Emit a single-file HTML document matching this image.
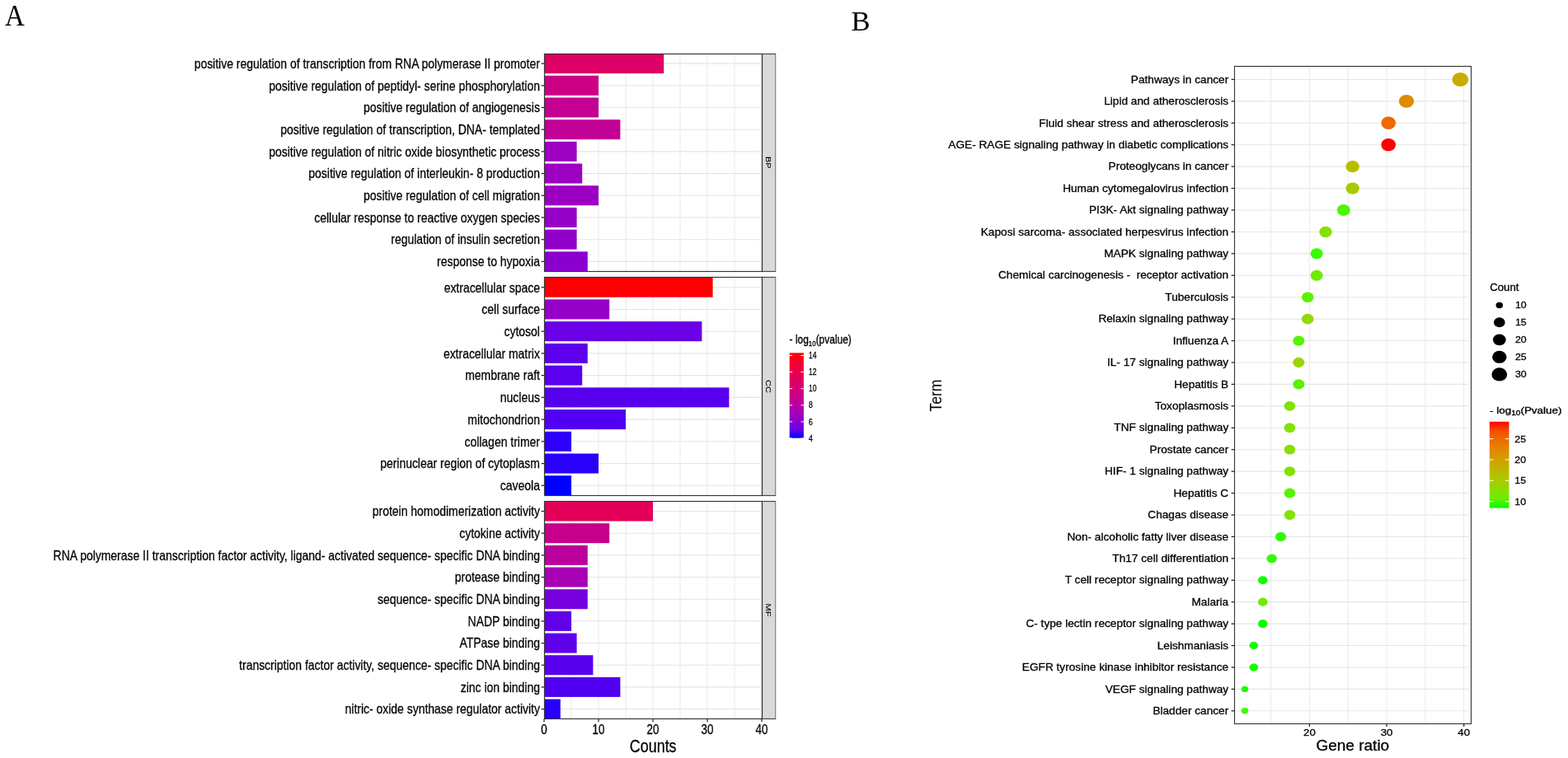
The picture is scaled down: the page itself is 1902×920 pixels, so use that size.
<!DOCTYPE html>
<html><head><meta charset="utf-8"><title>GO and KEGG enrichment</title>
<style>html,body{margin:0;padding:0;background:#fff;overflow:hidden}svg{display:block}</style>
</head><body>
<svg width="1902" height="920" viewBox="0 0 1902 920">
<rect width="1902" height="920" fill="#fff"/>
<text transform="translate(6.00,31.10) scale(0.9400,1)" font-family="Liberation Serif, serif" font-size="35.0" fill="#000" style="white-space:pre">A</text>
<rect x="660.0" y="65.1" width="264.0" height="264.29999999999995" fill="#fff"/>
<g stroke="#EBEBEB" stroke-width="1.1"><line x1="660.00" y1="65.1" x2="660.00" y2="329.4"/><line x1="693.00" y1="65.1" x2="693.00" y2="329.4"/><line x1="726.00" y1="65.1" x2="726.00" y2="329.4"/><line x1="759.00" y1="65.1" x2="759.00" y2="329.4"/><line x1="792.00" y1="65.1" x2="792.00" y2="329.4"/><line x1="825.00" y1="65.1" x2="825.00" y2="329.4"/><line x1="858.00" y1="65.1" x2="858.00" y2="329.4"/><line x1="891.00" y1="65.1" x2="891.00" y2="329.4"/><line x1="924.00" y1="65.1" x2="924.00" y2="329.4"/><line x1="660.0" y1="77.11" x2="922.0" y2="77.11" stroke="#E4E4E4"/><line x1="660.0" y1="103.81" x2="922.0" y2="103.81" stroke="#E4E4E4"/><line x1="660.0" y1="130.51" x2="922.0" y2="130.51" stroke="#E4E4E4"/><line x1="660.0" y1="157.20" x2="922.0" y2="157.20" stroke="#E4E4E4"/><line x1="660.0" y1="183.90" x2="922.0" y2="183.90" stroke="#E4E4E4"/><line x1="660.0" y1="210.60" x2="922.0" y2="210.60" stroke="#E4E4E4"/><line x1="660.0" y1="237.30" x2="922.0" y2="237.30" stroke="#E4E4E4"/><line x1="660.0" y1="263.99" x2="922.0" y2="263.99" stroke="#E4E4E4"/><line x1="660.0" y1="290.69" x2="922.0" y2="290.69" stroke="#E4E4E4"/><line x1="660.0" y1="317.39" x2="922.0" y2="317.39" stroke="#E4E4E4"/></g>
<rect x="660.0" y="65.10" width="145.20" height="24.03" fill="#DE0064"/>
<line x1="656.60" y1="77.11" x2="660.0" y2="77.11" stroke="#222" stroke-width="1.25"/>
<text transform="translate(654.90,82.91) scale(0.8460,1)" font-family="Liberation Sans, sans-serif" font-size="16.5" text-anchor="end" fill="#000" stroke="#000" stroke-width="0.28" style="white-space:pre">positive regulation of transcription from RNA polymerase II promoter</text>
<rect x="660.0" y="91.80" width="66.00" height="24.03" fill="#CC0085"/>
<line x1="656.60" y1="103.81" x2="660.0" y2="103.81" stroke="#222" stroke-width="1.25"/>
<text transform="translate(654.90,109.61) scale(0.8460,1)" font-family="Liberation Sans, sans-serif" font-size="16.5" text-anchor="end" fill="#000" stroke="#000" stroke-width="0.28" style="white-space:pre">positive regulation of peptidyl- serine phosphorylation</text>
<rect x="660.0" y="118.49" width="66.00" height="24.03" fill="#C30092"/>
<line x1="656.60" y1="130.51" x2="660.0" y2="130.51" stroke="#222" stroke-width="1.25"/>
<text transform="translate(654.90,136.31) scale(0.8460,1)" font-family="Liberation Sans, sans-serif" font-size="16.5" text-anchor="end" fill="#000" stroke="#000" stroke-width="0.28" style="white-space:pre">positive regulation of angiogenesis</text>
<rect x="660.0" y="145.19" width="92.40" height="24.03" fill="#C10095"/>
<line x1="656.60" y1="157.20" x2="660.0" y2="157.20" stroke="#222" stroke-width="1.25"/>
<text transform="translate(654.90,163.00) scale(0.8460,1)" font-family="Liberation Sans, sans-serif" font-size="16.5" text-anchor="end" fill="#000" stroke="#000" stroke-width="0.28" style="white-space:pre">positive regulation of transcription, DNA- templated</text>
<rect x="660.0" y="171.89" width="39.60" height="24.03" fill="#9D00C0"/>
<line x1="656.60" y1="183.90" x2="660.0" y2="183.90" stroke="#222" stroke-width="1.25"/>
<text transform="translate(654.90,189.70) scale(0.8460,1)" font-family="Liberation Sans, sans-serif" font-size="16.5" text-anchor="end" fill="#000" stroke="#000" stroke-width="0.28" style="white-space:pre">positive regulation of nitric oxide biosynthetic process</text>
<rect x="660.0" y="198.58" width="46.20" height="24.03" fill="#9D00C0"/>
<line x1="656.60" y1="210.60" x2="660.0" y2="210.60" stroke="#222" stroke-width="1.25"/>
<text transform="translate(654.90,216.40) scale(0.8460,1)" font-family="Liberation Sans, sans-serif" font-size="16.5" text-anchor="end" fill="#000" stroke="#000" stroke-width="0.28" style="white-space:pre">positive regulation of interleukin- 8 production</text>
<rect x="660.0" y="225.28" width="66.00" height="24.03" fill="#9B00C2"/>
<line x1="656.60" y1="237.30" x2="660.0" y2="237.30" stroke="#222" stroke-width="1.25"/>
<text transform="translate(654.90,243.10) scale(0.8460,1)" font-family="Liberation Sans, sans-serif" font-size="16.5" text-anchor="end" fill="#000" stroke="#000" stroke-width="0.28" style="white-space:pre">positive regulation of cell migration</text>
<rect x="660.0" y="251.98" width="39.60" height="24.03" fill="#9600C7"/>
<line x1="656.60" y1="263.99" x2="660.0" y2="263.99" stroke="#222" stroke-width="1.25"/>
<text transform="translate(654.90,269.79) scale(0.8460,1)" font-family="Liberation Sans, sans-serif" font-size="16.5" text-anchor="end" fill="#000" stroke="#000" stroke-width="0.28" style="white-space:pre">cellular response to reactive oxygen species</text>
<rect x="660.0" y="278.68" width="39.60" height="24.03" fill="#9100CB"/>
<line x1="656.60" y1="290.69" x2="660.0" y2="290.69" stroke="#222" stroke-width="1.25"/>
<text transform="translate(654.90,296.49) scale(0.8460,1)" font-family="Liberation Sans, sans-serif" font-size="16.5" text-anchor="end" fill="#000" stroke="#000" stroke-width="0.28" style="white-space:pre">regulation of insulin secretion</text>
<rect x="660.0" y="305.37" width="52.80" height="24.03" fill="#8B00D0"/>
<line x1="656.60" y1="317.39" x2="660.0" y2="317.39" stroke="#222" stroke-width="1.25"/>
<text transform="translate(654.90,323.19) scale(0.8460,1)" font-family="Liberation Sans, sans-serif" font-size="16.5" text-anchor="end" fill="#000" stroke="#000" stroke-width="0.28" style="white-space:pre">response to hypoxia</text>
<rect x="924.5" y="65.5" width="16.2" height="264.0" fill="#D9D9D9" stroke="#7a7a7a" stroke-width="1.1"/>
<line x1="924.5" y1="65.5" x2="941.0" y2="65.5" stroke="#444" stroke-width="1.1"/>
<line x1="924.5" y1="329.5" x2="941.0" y2="329.5" stroke="#444" stroke-width="1.1"/>
<rect x="660.5" y="65.5" width="264" height="264.0" fill="none" stroke="#333" stroke-width="1.15"/>
<text transform="translate(929.0,197.25) scale(0.9,1) rotate(90)" font-family="Liberation Sans, sans-serif" font-size="11" text-anchor="middle" fill="#000" stroke="#000" stroke-width="0.1">BP</text>
<rect x="660.0" y="336.7" width="264.0" height="264.59999999999997" fill="#fff"/>
<g stroke="#EBEBEB" stroke-width="1.1"><line x1="660.00" y1="336.7" x2="660.00" y2="601.3"/><line x1="693.00" y1="336.7" x2="693.00" y2="601.3"/><line x1="726.00" y1="336.7" x2="726.00" y2="601.3"/><line x1="759.00" y1="336.7" x2="759.00" y2="601.3"/><line x1="792.00" y1="336.7" x2="792.00" y2="601.3"/><line x1="825.00" y1="336.7" x2="825.00" y2="601.3"/><line x1="858.00" y1="336.7" x2="858.00" y2="601.3"/><line x1="891.00" y1="336.7" x2="891.00" y2="601.3"/><line x1="924.00" y1="336.7" x2="924.00" y2="601.3"/><line x1="660.0" y1="348.73" x2="922.0" y2="348.73" stroke="#E4E4E4"/><line x1="660.0" y1="375.45" x2="922.0" y2="375.45" stroke="#E4E4E4"/><line x1="660.0" y1="402.18" x2="922.0" y2="402.18" stroke="#E4E4E4"/><line x1="660.0" y1="428.91" x2="922.0" y2="428.91" stroke="#E4E4E4"/><line x1="660.0" y1="455.64" x2="922.0" y2="455.64" stroke="#E4E4E4"/><line x1="660.0" y1="482.36" x2="922.0" y2="482.36" stroke="#E4E4E4"/><line x1="660.0" y1="509.09" x2="922.0" y2="509.09" stroke="#E4E4E4"/><line x1="660.0" y1="535.82" x2="922.0" y2="535.82" stroke="#E4E4E4"/><line x1="660.0" y1="562.55" x2="922.0" y2="562.55" stroke="#E4E4E4"/><line x1="660.0" y1="589.27" x2="922.0" y2="589.27" stroke="#E4E4E4"/></g>
<rect x="660.0" y="336.70" width="204.60" height="24.05" fill="#FF0000"/>
<line x1="656.60" y1="348.73" x2="660.0" y2="348.73" stroke="#222" stroke-width="1.25"/>
<text transform="translate(654.90,354.53) scale(0.8460,1)" font-family="Liberation Sans, sans-serif" font-size="16.5" text-anchor="end" fill="#000" stroke="#000" stroke-width="0.28" style="white-space:pre">extracellular space</text>
<rect x="660.0" y="363.43" width="79.20" height="24.05" fill="#9600C7"/>
<line x1="656.60" y1="375.45" x2="660.0" y2="375.45" stroke="#222" stroke-width="1.25"/>
<text transform="translate(654.90,381.25) scale(0.8460,1)" font-family="Liberation Sans, sans-serif" font-size="16.5" text-anchor="end" fill="#000" stroke="#000" stroke-width="0.28" style="white-space:pre">cell surface</text>
<rect x="660.0" y="390.15" width="191.40" height="24.05" fill="#6900E6"/>
<line x1="656.60" y1="402.18" x2="660.0" y2="402.18" stroke="#222" stroke-width="1.25"/>
<text transform="translate(654.90,407.98) scale(0.8460,1)" font-family="Liberation Sans, sans-serif" font-size="16.5" text-anchor="end" fill="#000" stroke="#000" stroke-width="0.28" style="white-space:pre">cytosol</text>
<rect x="660.0" y="416.88" width="52.80" height="24.05" fill="#5D00EC"/>
<line x1="656.60" y1="428.91" x2="660.0" y2="428.91" stroke="#222" stroke-width="1.25"/>
<text transform="translate(654.90,434.71) scale(0.8460,1)" font-family="Liberation Sans, sans-serif" font-size="16.5" text-anchor="end" fill="#000" stroke="#000" stroke-width="0.28" style="white-space:pre">extracellular matrix</text>
<rect x="660.0" y="443.61" width="46.20" height="24.05" fill="#5A00ED"/>
<line x1="656.60" y1="455.64" x2="660.0" y2="455.64" stroke="#222" stroke-width="1.25"/>
<text transform="translate(654.90,461.44) scale(0.8460,1)" font-family="Liberation Sans, sans-serif" font-size="16.5" text-anchor="end" fill="#000" stroke="#000" stroke-width="0.28" style="white-space:pre">membrane raft</text>
<rect x="660.0" y="470.34" width="224.40" height="24.05" fill="#5700EE"/>
<line x1="656.60" y1="482.36" x2="660.0" y2="482.36" stroke="#222" stroke-width="1.25"/>
<text transform="translate(654.90,488.16) scale(0.8460,1)" font-family="Liberation Sans, sans-serif" font-size="16.5" text-anchor="end" fill="#000" stroke="#000" stroke-width="0.28" style="white-space:pre">nucleus</text>
<rect x="660.0" y="497.06" width="99.00" height="24.05" fill="#5100F1"/>
<line x1="656.60" y1="509.09" x2="660.0" y2="509.09" stroke="#222" stroke-width="1.25"/>
<text transform="translate(654.90,514.89) scale(0.8460,1)" font-family="Liberation Sans, sans-serif" font-size="16.5" text-anchor="end" fill="#000" stroke="#000" stroke-width="0.28" style="white-space:pre">mitochondrion</text>
<rect x="660.0" y="523.79" width="33.00" height="24.05" fill="#2E00FA"/>
<line x1="656.60" y1="535.82" x2="660.0" y2="535.82" stroke="#222" stroke-width="1.25"/>
<text transform="translate(654.90,541.62) scale(0.8460,1)" font-family="Liberation Sans, sans-serif" font-size="16.5" text-anchor="end" fill="#000" stroke="#000" stroke-width="0.28" style="white-space:pre">collagen trimer</text>
<rect x="660.0" y="550.52" width="66.00" height="24.05" fill="#2800FB"/>
<line x1="656.60" y1="562.55" x2="660.0" y2="562.55" stroke="#222" stroke-width="1.25"/>
<text transform="translate(654.90,568.35) scale(0.8460,1)" font-family="Liberation Sans, sans-serif" font-size="16.5" text-anchor="end" fill="#000" stroke="#000" stroke-width="0.28" style="white-space:pre">perinuclear region of cytoplasm</text>
<rect x="660.0" y="577.25" width="33.00" height="24.05" fill="#0000FF"/>
<line x1="656.60" y1="589.27" x2="660.0" y2="589.27" stroke="#222" stroke-width="1.25"/>
<text transform="translate(654.90,595.07) scale(0.8460,1)" font-family="Liberation Sans, sans-serif" font-size="16.5" text-anchor="end" fill="#000" stroke="#000" stroke-width="0.28" style="white-space:pre">caveola</text>
<rect x="924.5" y="336.5" width="16.2" height="265.0" fill="#D9D9D9" stroke="#7a7a7a" stroke-width="1.1"/>
<line x1="924.5" y1="336.5" x2="941.0" y2="336.5" stroke="#444" stroke-width="1.1"/>
<line x1="924.5" y1="601.5" x2="941.0" y2="601.5" stroke="#444" stroke-width="1.1"/>
<rect x="660.5" y="336.5" width="264" height="265.0" fill="none" stroke="#333" stroke-width="1.15"/>
<text transform="translate(929.0,469.00) scale(0.9,1) rotate(90)" font-family="Liberation Sans, sans-serif" font-size="11" text-anchor="middle" fill="#000" stroke="#000" stroke-width="0.1">CC</text>
<rect x="660.0" y="608.5" width="264.0" height="264.1" fill="#fff"/>
<g stroke="#EBEBEB" stroke-width="1.1"><line x1="660.00" y1="608.5" x2="660.00" y2="872.6"/><line x1="693.00" y1="608.5" x2="693.00" y2="872.6"/><line x1="726.00" y1="608.5" x2="726.00" y2="872.6"/><line x1="759.00" y1="608.5" x2="759.00" y2="872.6"/><line x1="792.00" y1="608.5" x2="792.00" y2="872.6"/><line x1="825.00" y1="608.5" x2="825.00" y2="872.6"/><line x1="858.00" y1="608.5" x2="858.00" y2="872.6"/><line x1="891.00" y1="608.5" x2="891.00" y2="872.6"/><line x1="924.00" y1="608.5" x2="924.00" y2="872.6"/><line x1="660.0" y1="620.50" x2="922.0" y2="620.50" stroke="#E4E4E4"/><line x1="660.0" y1="647.18" x2="922.0" y2="647.18" stroke="#E4E4E4"/><line x1="660.0" y1="673.86" x2="922.0" y2="673.86" stroke="#E4E4E4"/><line x1="660.0" y1="700.53" x2="922.0" y2="700.53" stroke="#E4E4E4"/><line x1="660.0" y1="727.21" x2="922.0" y2="727.21" stroke="#E4E4E4"/><line x1="660.0" y1="753.89" x2="922.0" y2="753.89" stroke="#E4E4E4"/><line x1="660.0" y1="780.57" x2="922.0" y2="780.57" stroke="#E4E4E4"/><line x1="660.0" y1="807.24" x2="922.0" y2="807.24" stroke="#E4E4E4"/><line x1="660.0" y1="833.92" x2="922.0" y2="833.92" stroke="#E4E4E4"/><line x1="660.0" y1="860.60" x2="922.0" y2="860.60" stroke="#E4E4E4"/></g>
<rect x="660.0" y="608.50" width="132.00" height="24.01" fill="#E40059"/>
<line x1="656.60" y1="620.50" x2="660.0" y2="620.50" stroke="#222" stroke-width="1.25"/>
<text transform="translate(654.90,626.30) scale(0.8460,1)" font-family="Liberation Sans, sans-serif" font-size="16.5" text-anchor="end" fill="#000" stroke="#000" stroke-width="0.28" style="white-space:pre">protein homodimerization activity</text>
<rect x="660.0" y="635.18" width="79.20" height="24.01" fill="#C7008C"/>
<line x1="656.60" y1="647.18" x2="660.0" y2="647.18" stroke="#222" stroke-width="1.25"/>
<text transform="translate(654.90,652.98) scale(0.8460,1)" font-family="Liberation Sans, sans-serif" font-size="16.5" text-anchor="end" fill="#000" stroke="#000" stroke-width="0.28" style="white-space:pre">cytokine activity</text>
<rect x="660.0" y="661.85" width="52.80" height="24.01" fill="#BB009E"/>
<line x1="656.60" y1="673.86" x2="660.0" y2="673.86" stroke="#222" stroke-width="1.25"/>
<text transform="translate(654.90,679.66) scale(0.8460,1)" font-family="Liberation Sans, sans-serif" font-size="16.5" text-anchor="end" fill="#000" stroke="#000" stroke-width="0.28" style="white-space:pre">RNA polymerase II transcription factor activity, ligand- activated sequence- specific DNA binding</text>
<rect x="660.0" y="688.53" width="52.80" height="24.01" fill="#A800B4"/>
<line x1="656.60" y1="700.53" x2="660.0" y2="700.53" stroke="#222" stroke-width="1.25"/>
<text transform="translate(654.90,706.33) scale(0.8460,1)" font-family="Liberation Sans, sans-serif" font-size="16.5" text-anchor="end" fill="#000" stroke="#000" stroke-width="0.28" style="white-space:pre">protease binding</text>
<rect x="660.0" y="715.21" width="52.80" height="24.01" fill="#7700DE"/>
<line x1="656.60" y1="727.21" x2="660.0" y2="727.21" stroke="#222" stroke-width="1.25"/>
<text transform="translate(654.90,733.01) scale(0.8460,1)" font-family="Liberation Sans, sans-serif" font-size="16.5" text-anchor="end" fill="#000" stroke="#000" stroke-width="0.28" style="white-space:pre">sequence- specific DNA binding</text>
<rect x="660.0" y="741.88" width="33.00" height="24.01" fill="#6200EA"/>
<line x1="656.60" y1="753.89" x2="660.0" y2="753.89" stroke="#222" stroke-width="1.25"/>
<text transform="translate(654.90,759.69) scale(0.8460,1)" font-family="Liberation Sans, sans-serif" font-size="16.5" text-anchor="end" fill="#000" stroke="#000" stroke-width="0.28" style="white-space:pre">NADP binding</text>
<rect x="660.0" y="768.56" width="39.60" height="24.01" fill="#5F00EB"/>
<line x1="656.60" y1="780.57" x2="660.0" y2="780.57" stroke="#222" stroke-width="1.25"/>
<text transform="translate(654.90,786.37) scale(0.8460,1)" font-family="Liberation Sans, sans-serif" font-size="16.5" text-anchor="end" fill="#000" stroke="#000" stroke-width="0.28" style="white-space:pre">ATPase binding</text>
<rect x="660.0" y="795.24" width="59.40" height="24.01" fill="#5700EE"/>
<line x1="656.60" y1="807.24" x2="660.0" y2="807.24" stroke="#222" stroke-width="1.25"/>
<text transform="translate(654.90,813.04) scale(0.8460,1)" font-family="Liberation Sans, sans-serif" font-size="16.5" text-anchor="end" fill="#000" stroke="#000" stroke-width="0.28" style="white-space:pre">transcription factor activity, sequence- specific DNA binding</text>
<rect x="660.0" y="821.91" width="92.40" height="24.01" fill="#5100F1"/>
<line x1="656.60" y1="833.92" x2="660.0" y2="833.92" stroke="#222" stroke-width="1.25"/>
<text transform="translate(654.90,839.72) scale(0.8460,1)" font-family="Liberation Sans, sans-serif" font-size="16.5" text-anchor="end" fill="#000" stroke="#000" stroke-width="0.28" style="white-space:pre">zinc ion binding</text>
<rect x="660.0" y="848.59" width="19.80" height="24.01" fill="#2800FB"/>
<line x1="656.60" y1="860.60" x2="660.0" y2="860.60" stroke="#222" stroke-width="1.25"/>
<text transform="translate(654.90,866.40) scale(0.8460,1)" font-family="Liberation Sans, sans-serif" font-size="16.5" text-anchor="end" fill="#000" stroke="#000" stroke-width="0.28" style="white-space:pre">nitric- oxide synthase regulator activity</text>
<rect x="924.5" y="608.5" width="16.2" height="264.0" fill="#D9D9D9" stroke="#7a7a7a" stroke-width="1.1"/>
<line x1="924.5" y1="608.5" x2="941.0" y2="608.5" stroke="#444" stroke-width="1.1"/>
<line x1="924.5" y1="872.5" x2="941.0" y2="872.5" stroke="#444" stroke-width="1.1"/>
<rect x="660.5" y="608.5" width="264" height="264.0" fill="none" stroke="#333" stroke-width="1.15"/>
<text transform="translate(929.0,740.55) scale(0.9,1) rotate(90)" font-family="Liberation Sans, sans-serif" font-size="11" text-anchor="middle" fill="#000" stroke="#000" stroke-width="0.1">MF</text>
<line x1="660.00" y1="872.6" x2="660.00" y2="876.20" stroke="#222" stroke-width="1.25"/>
<text transform="translate(660.00,890.60) scale(0.8600,1)" font-family="Liberation Sans, sans-serif" font-size="15.6" text-anchor="middle" fill="#000" stroke="#000" stroke-width="0.28" style="white-space:pre">0</text>
<line x1="726.00" y1="872.6" x2="726.00" y2="876.20" stroke="#222" stroke-width="1.25"/>
<text transform="translate(726.00,890.60) scale(0.8600,1)" font-family="Liberation Sans, sans-serif" font-size="15.6" text-anchor="middle" fill="#000" stroke="#000" stroke-width="0.28" style="white-space:pre">10</text>
<line x1="792.00" y1="872.6" x2="792.00" y2="876.20" stroke="#222" stroke-width="1.25"/>
<text transform="translate(792.00,890.60) scale(0.8600,1)" font-family="Liberation Sans, sans-serif" font-size="15.6" text-anchor="middle" fill="#000" stroke="#000" stroke-width="0.28" style="white-space:pre">20</text>
<line x1="858.00" y1="872.6" x2="858.00" y2="876.20" stroke="#222" stroke-width="1.25"/>
<text transform="translate(858.00,890.60) scale(0.8600,1)" font-family="Liberation Sans, sans-serif" font-size="15.6" text-anchor="middle" fill="#000" stroke="#000" stroke-width="0.28" style="white-space:pre">30</text>
<line x1="924.00" y1="872.6" x2="924.00" y2="876.20" stroke="#222" stroke-width="1.25"/>
<text transform="translate(924.00,890.60) scale(0.8600,1)" font-family="Liberation Sans, sans-serif" font-size="15.6" text-anchor="middle" fill="#000" stroke="#000" stroke-width="0.28" style="white-space:pre">40</text>
<text transform="translate(792.20,913.10) scale(0.8150,1)" font-family="Liberation Sans, sans-serif" font-size="22" text-anchor="middle" fill="#000" stroke="#000" stroke-width="0.28" style="white-space:pre">Counts</text>
<defs><linearGradient id="gA" x1="0" y1="1" x2="0" y2="0"><stop offset="0.000" stop-color="#0000FF"/><stop offset="0.100" stop-color="#6800E7"/><stop offset="0.200" stop-color="#8D00CE"/><stop offset="0.300" stop-color="#A600B7"/><stop offset="0.400" stop-color="#BA009F"/><stop offset="0.500" stop-color="#CA0088"/><stop offset="0.600" stop-color="#D70072"/><stop offset="0.700" stop-color="#E3005B"/><stop offset="0.800" stop-color="#ED0044"/><stop offset="0.900" stop-color="#F6002A"/><stop offset="1.000" stop-color="#FF0000"/></linearGradient>
<linearGradient id="gB" x1="0" y1="1" x2="0" y2="0"><stop offset="0.000" stop-color="#00FF00"/><stop offset="0.100" stop-color="#65EF00"/><stop offset="0.200" stop-color="#8ADF00"/><stop offset="0.300" stop-color="#A4CE00"/><stop offset="0.400" stop-color="#B8BD00"/><stop offset="0.500" stop-color="#C9AB00"/><stop offset="0.600" stop-color="#D79800"/><stop offset="0.700" stop-color="#E38200"/><stop offset="0.800" stop-color="#ED6A00"/><stop offset="0.900" stop-color="#F74A00"/><stop offset="1.000" stop-color="#FF0000"/></linearGradient></defs>
<rect x="957.7" y="428.3" width="17.20" height="103.40" fill="url(#gA)"/>
<line x1="957.7" y1="532.00" x2="961.14" y2="532.00" stroke="#fff" stroke-width="1"/>
<line x1="971.46" y1="532.00" x2="974.9" y2="532.00" stroke="#fff" stroke-width="1"/>
<text transform="translate(981.00,535.60) scale(0.8600,1)" font-family="Liberation Sans, sans-serif" font-size="10" fill="#000" stroke="#000" stroke-width="0.28" style="white-space:pre">4</text>
<line x1="957.7" y1="511.90" x2="961.14" y2="511.90" stroke="#fff" stroke-width="1"/>
<line x1="971.46" y1="511.90" x2="974.9" y2="511.90" stroke="#fff" stroke-width="1"/>
<text transform="translate(981.00,515.50) scale(0.8600,1)" font-family="Liberation Sans, sans-serif" font-size="10" fill="#000" stroke="#000" stroke-width="0.28" style="white-space:pre">6</text>
<line x1="957.7" y1="491.80" x2="961.14" y2="491.80" stroke="#fff" stroke-width="1"/>
<line x1="971.46" y1="491.80" x2="974.9" y2="491.80" stroke="#fff" stroke-width="1"/>
<text transform="translate(981.00,495.40) scale(0.8600,1)" font-family="Liberation Sans, sans-serif" font-size="10" fill="#000" stroke="#000" stroke-width="0.28" style="white-space:pre">8</text>
<line x1="957.7" y1="471.70" x2="961.14" y2="471.70" stroke="#fff" stroke-width="1"/>
<line x1="971.46" y1="471.70" x2="974.9" y2="471.70" stroke="#fff" stroke-width="1"/>
<text transform="translate(981.00,475.30) scale(0.8600,1)" font-family="Liberation Sans, sans-serif" font-size="10" fill="#000" stroke="#000" stroke-width="0.28" style="white-space:pre">10</text>
<line x1="957.7" y1="451.60" x2="961.14" y2="451.60" stroke="#fff" stroke-width="1"/>
<line x1="971.46" y1="451.60" x2="974.9" y2="451.60" stroke="#fff" stroke-width="1"/>
<text transform="translate(981.00,455.20) scale(0.8600,1)" font-family="Liberation Sans, sans-serif" font-size="10" fill="#000" stroke="#000" stroke-width="0.28" style="white-space:pre">12</text>
<line x1="957.7" y1="431.50" x2="961.14" y2="431.50" stroke="#fff" stroke-width="1"/>
<line x1="971.46" y1="431.50" x2="974.9" y2="431.50" stroke="#fff" stroke-width="1"/>
<text transform="translate(981.00,435.10) scale(0.8600,1)" font-family="Liberation Sans, sans-serif" font-size="10" fill="#000" stroke="#000" stroke-width="0.28" style="white-space:pre">14</text>
<text transform="translate(957.6,416.9) scale(0.86,1)" font-family="Liberation Sans, sans-serif" font-size="13.9" fill="#000" stroke="#000" stroke-width="0.35">- log<tspan font-size="9.2" dy="2.8">10</tspan><tspan dy="-2.8">(pvalue)</tspan></text>
<text transform="translate(1032.60,37.40)" font-family="Liberation Serif, serif" font-size="34.5" fill="#000" style="white-space:pre">B</text>
<g stroke="#EBEBEB" stroke-width="1.1"><line x1="1541.58" y1="80.65" x2="1541.58" y2="878.1"/><line x1="1588.40" y1="80.65" x2="1588.40" y2="878.1"/><line x1="1635.23" y1="80.65" x2="1635.23" y2="878.1"/><line x1="1682.05" y1="80.65" x2="1682.05" y2="878.1"/><line x1="1728.88" y1="80.65" x2="1728.88" y2="878.1"/><line x1="1775.70" y1="80.65" x2="1775.70" y2="878.1"/><line x1="1497.4" y1="96.45" x2="1782.0" y2="96.45" stroke="#E6E6E6"/><line x1="1497.4" y1="122.88" x2="1782.0" y2="122.88" stroke="#E6E6E6"/><line x1="1497.4" y1="149.30" x2="1782.0" y2="149.30" stroke="#E6E6E6"/><line x1="1497.4" y1="175.73" x2="1782.0" y2="175.73" stroke="#E6E6E6"/><line x1="1497.4" y1="202.15" x2="1782.0" y2="202.15" stroke="#E6E6E6"/><line x1="1497.4" y1="228.58" x2="1782.0" y2="228.58" stroke="#E6E6E6"/><line x1="1497.4" y1="255.01" x2="1782.0" y2="255.01" stroke="#E6E6E6"/><line x1="1497.4" y1="281.43" x2="1782.0" y2="281.43" stroke="#E6E6E6"/><line x1="1497.4" y1="307.86" x2="1782.0" y2="307.86" stroke="#E6E6E6"/><line x1="1497.4" y1="334.28" x2="1782.0" y2="334.28" stroke="#E6E6E6"/><line x1="1497.4" y1="360.71" x2="1782.0" y2="360.71" stroke="#E6E6E6"/><line x1="1497.4" y1="387.14" x2="1782.0" y2="387.14" stroke="#E6E6E6"/><line x1="1497.4" y1="413.56" x2="1782.0" y2="413.56" stroke="#E6E6E6"/><line x1="1497.4" y1="439.99" x2="1782.0" y2="439.99" stroke="#E6E6E6"/><line x1="1497.4" y1="466.41" x2="1782.0" y2="466.41" stroke="#E6E6E6"/><line x1="1497.4" y1="492.84" x2="1782.0" y2="492.84" stroke="#E6E6E6"/><line x1="1497.4" y1="519.27" x2="1782.0" y2="519.27" stroke="#E6E6E6"/><line x1="1497.4" y1="545.69" x2="1782.0" y2="545.69" stroke="#E6E6E6"/><line x1="1497.4" y1="572.12" x2="1782.0" y2="572.12" stroke="#E6E6E6"/><line x1="1497.4" y1="598.54" x2="1782.0" y2="598.54" stroke="#E6E6E6"/><line x1="1497.4" y1="624.97" x2="1782.0" y2="624.97" stroke="#E6E6E6"/><line x1="1497.4" y1="651.40" x2="1782.0" y2="651.40" stroke="#E6E6E6"/><line x1="1497.4" y1="677.82" x2="1782.0" y2="677.82" stroke="#E6E6E6"/><line x1="1497.4" y1="704.25" x2="1782.0" y2="704.25" stroke="#E6E6E6"/><line x1="1497.4" y1="730.67" x2="1782.0" y2="730.67" stroke="#E6E6E6"/><line x1="1497.4" y1="757.10" x2="1782.0" y2="757.10" stroke="#E6E6E6"/><line x1="1497.4" y1="783.53" x2="1782.0" y2="783.53" stroke="#E6E6E6"/><line x1="1497.4" y1="809.95" x2="1782.0" y2="809.95" stroke="#E6E6E6"/><line x1="1497.4" y1="836.38" x2="1782.0" y2="836.38" stroke="#E6E6E6"/><line x1="1497.4" y1="862.80" x2="1782.0" y2="862.80" stroke="#E6E6E6"/></g>
<ellipse cx="1771.34" cy="96.45" rx="9.86" ry="8.57" fill="#C8AC00"/>
<line x1="1493.60" y1="96.45" x2="1497.4" y2="96.45" stroke="#222" stroke-width="1.25"/>
<text transform="translate(1490.20,100.65) scale(1.0850,1)" font-family="Liberation Sans, sans-serif" font-size="12.6" text-anchor="end" fill="#000" stroke="#000" stroke-width="0.28" style="white-space:pre">Pathways in cancer</text>
<ellipse cx="1706.01" cy="122.88" rx="9.11" ry="7.92" fill="#DE8B00"/>
<line x1="1493.60" y1="122.88" x2="1497.4" y2="122.88" stroke="#222" stroke-width="1.25"/>
<text transform="translate(1490.20,127.08) scale(1.0850,1)" font-family="Liberation Sans, sans-serif" font-size="12.6" text-anchor="end" fill="#000" stroke="#000" stroke-width="0.28" style="white-space:pre">Lipid and atherosclerosis</text>
<ellipse cx="1684.23" cy="149.30" rx="8.83" ry="7.68" fill="#EE6900"/>
<line x1="1493.60" y1="149.30" x2="1497.4" y2="149.30" stroke="#222" stroke-width="1.25"/>
<text transform="translate(1490.20,153.50) scale(1.0850,1)" font-family="Liberation Sans, sans-serif" font-size="12.6" text-anchor="end" fill="#000" stroke="#000" stroke-width="0.28" style="white-space:pre">Fluid shear stress and atherosclerosis</text>
<ellipse cx="1684.23" cy="175.73" rx="8.83" ry="7.68" fill="#FF0000"/>
<line x1="1493.60" y1="175.73" x2="1497.4" y2="175.73" stroke="#222" stroke-width="1.25"/>
<text transform="translate(1490.20,179.93) scale(1.0850,1)" font-family="Liberation Sans, sans-serif" font-size="12.6" text-anchor="end" fill="#000" stroke="#000" stroke-width="0.28" style="white-space:pre">AGE- RAGE signaling pathway in diabetic complications</text>
<ellipse cx="1640.67" cy="202.15" rx="8.22" ry="7.15" fill="#B5BF00"/>
<line x1="1493.60" y1="202.15" x2="1497.4" y2="202.15" stroke="#222" stroke-width="1.25"/>
<text transform="translate(1490.20,206.35) scale(1.0850,1)" font-family="Liberation Sans, sans-serif" font-size="12.6" text-anchor="end" fill="#000" stroke="#000" stroke-width="0.28" style="white-space:pre">Proteoglycans in cancer</text>
<ellipse cx="1640.67" cy="228.58" rx="8.22" ry="7.15" fill="#A8CB00"/>
<line x1="1493.60" y1="228.58" x2="1497.4" y2="228.58" stroke="#222" stroke-width="1.25"/>
<text transform="translate(1490.20,232.78) scale(1.0850,1)" font-family="Liberation Sans, sans-serif" font-size="12.6" text-anchor="end" fill="#000" stroke="#000" stroke-width="0.28" style="white-space:pre">Human cytomegalovirus infection</text>
<ellipse cx="1629.78" cy="255.01" rx="8.05" ry="7.00" fill="#4BF700"/>
<line x1="1493.60" y1="255.01" x2="1497.4" y2="255.01" stroke="#222" stroke-width="1.25"/>
<text transform="translate(1490.20,259.21) scale(1.0850,1)" font-family="Liberation Sans, sans-serif" font-size="12.6" text-anchor="end" fill="#000" stroke="#000" stroke-width="0.28" style="white-space:pre">PI3K- Akt signaling pathway</text>
<ellipse cx="1608.00" cy="281.43" rx="7.69" ry="6.69" fill="#82E300"/>
<line x1="1493.60" y1="281.43" x2="1497.4" y2="281.43" stroke="#222" stroke-width="1.25"/>
<text transform="translate(1490.20,285.63) scale(1.0850,1)" font-family="Liberation Sans, sans-serif" font-size="12.6" text-anchor="end" fill="#000" stroke="#000" stroke-width="0.28" style="white-space:pre">Kaposi sarcoma- associated herpesvirus infection</text>
<ellipse cx="1597.11" cy="307.86" rx="7.49" ry="6.51" fill="#37FB00"/>
<line x1="1493.60" y1="307.86" x2="1497.4" y2="307.86" stroke="#222" stroke-width="1.25"/>
<text transform="translate(1490.20,312.06) scale(1.0850,1)" font-family="Liberation Sans, sans-serif" font-size="12.6" text-anchor="end" fill="#000" stroke="#000" stroke-width="0.28" style="white-space:pre">MAPK signaling pathway</text>
<ellipse cx="1597.11" cy="334.28" rx="7.49" ry="6.51" fill="#70EB00"/>
<line x1="1493.60" y1="334.28" x2="1497.4" y2="334.28" stroke="#222" stroke-width="1.25"/>
<text transform="translate(1490.20,338.48) scale(1.0850,1)" font-family="Liberation Sans, sans-serif" font-size="12.6" text-anchor="end" fill="#000" stroke="#000" stroke-width="0.28" style="white-space:pre">Chemical carcinogenesis -  receptor activation</text>
<ellipse cx="1586.22" cy="360.71" rx="7.28" ry="6.33" fill="#59F300"/>
<line x1="1493.60" y1="360.71" x2="1497.4" y2="360.71" stroke="#222" stroke-width="1.25"/>
<text transform="translate(1490.20,364.91) scale(1.0850,1)" font-family="Liberation Sans, sans-serif" font-size="12.6" text-anchor="end" fill="#000" stroke="#000" stroke-width="0.28" style="white-space:pre">Tuberculosis</text>
<ellipse cx="1586.22" cy="387.14" rx="7.28" ry="6.33" fill="#90DB00"/>
<line x1="1493.60" y1="387.14" x2="1497.4" y2="387.14" stroke="#222" stroke-width="1.25"/>
<text transform="translate(1490.20,391.34) scale(1.0850,1)" font-family="Liberation Sans, sans-serif" font-size="12.6" text-anchor="end" fill="#000" stroke="#000" stroke-width="0.28" style="white-space:pre">Relaxin signaling pathway</text>
<ellipse cx="1575.33" cy="413.56" rx="7.06" ry="6.14" fill="#54F400"/>
<line x1="1493.60" y1="413.56" x2="1497.4" y2="413.56" stroke="#222" stroke-width="1.25"/>
<text transform="translate(1490.20,417.76) scale(1.0850,1)" font-family="Liberation Sans, sans-serif" font-size="12.6" text-anchor="end" fill="#000" stroke="#000" stroke-width="0.28" style="white-space:pre">Influenza A</text>
<ellipse cx="1575.33" cy="439.99" rx="7.06" ry="6.14" fill="#9AD500"/>
<line x1="1493.60" y1="439.99" x2="1497.4" y2="439.99" stroke="#222" stroke-width="1.25"/>
<text transform="translate(1490.20,444.19) scale(1.0850,1)" font-family="Liberation Sans, sans-serif" font-size="12.6" text-anchor="end" fill="#000" stroke="#000" stroke-width="0.28" style="white-space:pre">IL- 17 signaling pathway</text>
<ellipse cx="1575.33" cy="466.41" rx="7.06" ry="6.14" fill="#59F300"/>
<line x1="1493.60" y1="466.41" x2="1497.4" y2="466.41" stroke="#222" stroke-width="1.25"/>
<text transform="translate(1490.20,470.61) scale(1.0850,1)" font-family="Liberation Sans, sans-serif" font-size="12.6" text-anchor="end" fill="#000" stroke="#000" stroke-width="0.28" style="white-space:pre">Hepatitis B</text>
<ellipse cx="1564.44" cy="492.84" rx="6.81" ry="5.93" fill="#82E300"/>
<line x1="1493.60" y1="492.84" x2="1497.4" y2="492.84" stroke="#222" stroke-width="1.25"/>
<text transform="translate(1490.20,497.04) scale(1.0850,1)" font-family="Liberation Sans, sans-serif" font-size="12.6" text-anchor="end" fill="#000" stroke="#000" stroke-width="0.28" style="white-space:pre">Toxoplasmosis</text>
<ellipse cx="1564.44" cy="519.27" rx="6.81" ry="5.93" fill="#82E300"/>
<line x1="1493.60" y1="519.27" x2="1497.4" y2="519.27" stroke="#222" stroke-width="1.25"/>
<text transform="translate(1490.20,523.47) scale(1.0850,1)" font-family="Liberation Sans, sans-serif" font-size="12.6" text-anchor="end" fill="#000" stroke="#000" stroke-width="0.28" style="white-space:pre">TNF signaling pathway</text>
<ellipse cx="1564.44" cy="545.69" rx="6.81" ry="5.93" fill="#89DF00"/>
<line x1="1493.60" y1="545.69" x2="1497.4" y2="545.69" stroke="#222" stroke-width="1.25"/>
<text transform="translate(1490.20,549.89) scale(1.0850,1)" font-family="Liberation Sans, sans-serif" font-size="12.6" text-anchor="end" fill="#000" stroke="#000" stroke-width="0.28" style="white-space:pre">Prostate cancer</text>
<ellipse cx="1564.44" cy="572.12" rx="6.81" ry="5.93" fill="#82E300"/>
<line x1="1493.60" y1="572.12" x2="1497.4" y2="572.12" stroke="#222" stroke-width="1.25"/>
<text transform="translate(1490.20,576.32) scale(1.0850,1)" font-family="Liberation Sans, sans-serif" font-size="12.6" text-anchor="end" fill="#000" stroke="#000" stroke-width="0.28" style="white-space:pre">HIF- 1 signaling pathway</text>
<ellipse cx="1564.44" cy="598.54" rx="6.81" ry="5.93" fill="#51F500"/>
<line x1="1493.60" y1="598.54" x2="1497.4" y2="598.54" stroke="#222" stroke-width="1.25"/>
<text transform="translate(1490.20,602.74) scale(1.0850,1)" font-family="Liberation Sans, sans-serif" font-size="12.6" text-anchor="end" fill="#000" stroke="#000" stroke-width="0.28" style="white-space:pre">Hepatitis C</text>
<ellipse cx="1564.44" cy="624.97" rx="6.81" ry="5.93" fill="#82E300"/>
<line x1="1493.60" y1="624.97" x2="1497.4" y2="624.97" stroke="#222" stroke-width="1.25"/>
<text transform="translate(1490.20,629.17) scale(1.0850,1)" font-family="Liberation Sans, sans-serif" font-size="12.6" text-anchor="end" fill="#000" stroke="#000" stroke-width="0.28" style="white-space:pre">Chagas disease</text>
<ellipse cx="1553.55" cy="651.40" rx="6.54" ry="5.69" fill="#2CFC00"/>
<line x1="1493.60" y1="651.40" x2="1497.4" y2="651.40" stroke="#222" stroke-width="1.25"/>
<text transform="translate(1490.20,655.60) scale(1.0850,1)" font-family="Liberation Sans, sans-serif" font-size="12.6" text-anchor="end" fill="#000" stroke="#000" stroke-width="0.28" style="white-space:pre">Non- alcoholic fatty liver disease</text>
<ellipse cx="1542.66" cy="677.82" rx="6.24" ry="5.42" fill="#37FB00"/>
<line x1="1493.60" y1="677.82" x2="1497.4" y2="677.82" stroke="#222" stroke-width="1.25"/>
<text transform="translate(1490.20,682.02) scale(1.0850,1)" font-family="Liberation Sans, sans-serif" font-size="12.6" text-anchor="end" fill="#000" stroke="#000" stroke-width="0.28" style="white-space:pre">Th17 cell differentiation</text>
<ellipse cx="1531.77" cy="704.25" rx="5.87" ry="5.11" fill="#10FE00"/>
<line x1="1493.60" y1="704.25" x2="1497.4" y2="704.25" stroke="#222" stroke-width="1.25"/>
<text transform="translate(1490.20,708.45) scale(1.0850,1)" font-family="Liberation Sans, sans-serif" font-size="12.6" text-anchor="end" fill="#000" stroke="#000" stroke-width="0.28" style="white-space:pre">T cell receptor signaling pathway</text>
<ellipse cx="1531.77" cy="730.67" rx="5.87" ry="5.11" fill="#70EB00"/>
<line x1="1493.60" y1="730.67" x2="1497.4" y2="730.67" stroke="#222" stroke-width="1.25"/>
<text transform="translate(1490.20,734.87) scale(1.0850,1)" font-family="Liberation Sans, sans-serif" font-size="12.6" text-anchor="end" fill="#000" stroke="#000" stroke-width="0.28" style="white-space:pre">Malaria</text>
<ellipse cx="1531.77" cy="757.10" rx="5.87" ry="5.11" fill="#10FE00"/>
<line x1="1493.60" y1="757.10" x2="1497.4" y2="757.10" stroke="#222" stroke-width="1.25"/>
<text transform="translate(1490.20,761.30) scale(1.0850,1)" font-family="Liberation Sans, sans-serif" font-size="12.6" text-anchor="end" fill="#000" stroke="#000" stroke-width="0.28" style="white-space:pre">C- type lectin receptor signaling pathway</text>
<ellipse cx="1520.88" cy="783.53" rx="5.40" ry="4.70" fill="#1CFE00"/>
<line x1="1493.60" y1="783.53" x2="1497.4" y2="783.53" stroke="#222" stroke-width="1.25"/>
<text transform="translate(1490.20,787.73) scale(1.0850,1)" font-family="Liberation Sans, sans-serif" font-size="12.6" text-anchor="end" fill="#000" stroke="#000" stroke-width="0.28" style="white-space:pre">Leishmaniasis</text>
<ellipse cx="1520.88" cy="809.95" rx="5.40" ry="4.70" fill="#10FE00"/>
<line x1="1493.60" y1="809.95" x2="1497.4" y2="809.95" stroke="#222" stroke-width="1.25"/>
<text transform="translate(1490.20,814.15) scale(1.0850,1)" font-family="Liberation Sans, sans-serif" font-size="12.6" text-anchor="end" fill="#000" stroke="#000" stroke-width="0.28" style="white-space:pre">EGFR tyrosine kinase inhibitor resistance</text>
<ellipse cx="1510.00" cy="836.38" rx="4.25" ry="3.70" fill="#1CFE00"/>
<line x1="1493.60" y1="836.38" x2="1497.4" y2="836.38" stroke="#222" stroke-width="1.25"/>
<text transform="translate(1490.20,840.58) scale(1.0850,1)" font-family="Liberation Sans, sans-serif" font-size="12.6" text-anchor="end" fill="#000" stroke="#000" stroke-width="0.28" style="white-space:pre">VEGF signaling pathway</text>
<ellipse cx="1510.00" cy="862.80" rx="4.25" ry="3.70" fill="#43F800"/>
<line x1="1493.60" y1="862.80" x2="1497.4" y2="862.80" stroke="#222" stroke-width="1.25"/>
<text transform="translate(1490.20,867.00) scale(1.0850,1)" font-family="Liberation Sans, sans-serif" font-size="12.6" text-anchor="end" fill="#000" stroke="#000" stroke-width="0.28" style="white-space:pre">Bladder cancer</text>
<rect x="1497.5" y="80.5" width="287" height="798" fill="none" stroke="#333" stroke-width="1.1"/>
<line x1="1588.40" y1="878.5" x2="1588.40" y2="882.0" stroke="#222" stroke-width="1.25"/>
<text transform="translate(1588.40,893.00) scale(1.1250,1)" font-family="Liberation Sans, sans-serif" font-size="11.8" text-anchor="middle" fill="#000" stroke="#000" stroke-width="0.28" style="white-space:pre">20</text>
<line x1="1682.05" y1="878.5" x2="1682.05" y2="882.0" stroke="#222" stroke-width="1.25"/>
<text transform="translate(1682.05,893.00) scale(1.1250,1)" font-family="Liberation Sans, sans-serif" font-size="11.8" text-anchor="middle" fill="#000" stroke="#000" stroke-width="0.28" style="white-space:pre">30</text>
<line x1="1775.70" y1="878.5" x2="1775.70" y2="882.0" stroke="#222" stroke-width="1.25"/>
<text transform="translate(1775.70,893.00) scale(1.1250,1)" font-family="Liberation Sans, sans-serif" font-size="11.8" text-anchor="middle" fill="#000" stroke="#000" stroke-width="0.28" style="white-space:pre">40</text>
<text transform="translate(1640.80,911.40) scale(1.0870,1)" font-family="Liberation Sans, sans-serif" font-size="17.5" text-anchor="middle" fill="#000" stroke="#000" stroke-width="0.28" style="white-space:pre">Gene ratio</text>
<text transform="translate(1141.9,480.1) scale(1.125,1) rotate(-90)" font-family="Liberation Sans, sans-serif" font-size="17.6" text-anchor="middle">Term</text>
<text transform="translate(1807.20,352.50) scale(1.1000,1)" font-family="Liberation Sans, sans-serif" font-size="12.0" fill="#000" stroke="#000" stroke-width="0.28" style="white-space:pre">Count</text>
<ellipse cx="1818.8" cy="370.5" rx="4.25" ry="3.70" fill="#000"/>
<text transform="translate(1838.00,374.40) scale(1.1250,1)" font-family="Liberation Sans, sans-serif" font-size="11" fill="#000" stroke="#000" stroke-width="0.28" style="white-space:pre">10</text>
<ellipse cx="1818.8" cy="391.2" rx="6.81" ry="5.93" fill="#000"/>
<text transform="translate(1838.00,395.10) scale(1.1250,1)" font-family="Liberation Sans, sans-serif" font-size="11" fill="#000" stroke="#000" stroke-width="0.28" style="white-space:pre">15</text>
<ellipse cx="1818.8" cy="412.3" rx="7.87" ry="6.85" fill="#000"/>
<text transform="translate(1838.00,416.20) scale(1.1250,1)" font-family="Liberation Sans, sans-serif" font-size="11" fill="#000" stroke="#000" stroke-width="0.28" style="white-space:pre">20</text>
<ellipse cx="1818.8" cy="433.3" rx="8.69" ry="7.55" fill="#000"/>
<text transform="translate(1838.00,437.20) scale(1.1250,1)" font-family="Liberation Sans, sans-serif" font-size="11" fill="#000" stroke="#000" stroke-width="0.28" style="white-space:pre">25</text>
<ellipse cx="1818.8" cy="454.4" rx="9.37" ry="8.15" fill="#000"/>
<text transform="translate(1838.00,458.30) scale(1.1250,1)" font-family="Liberation Sans, sans-serif" font-size="11" fill="#000" stroke="#000" stroke-width="0.28" style="white-space:pre">30</text>
<rect x="1806.8" y="511.8" width="23.70" height="104.80" fill="url(#gB)"/>
<line x1="1806.8" y1="608.60" x2="1811.54" y2="608.60" stroke="#fff" stroke-width="1"/>
<line x1="1825.76" y1="608.60" x2="1830.5" y2="608.60" stroke="#fff" stroke-width="1"/>
<text transform="translate(1837.30,612.50) scale(1.1250,1)" font-family="Liberation Sans, sans-serif" font-size="11" fill="#000" stroke="#000" stroke-width="0.28" style="white-space:pre">10</text>
<line x1="1806.8" y1="583.26" x2="1811.54" y2="583.26" stroke="#fff" stroke-width="1"/>
<line x1="1825.76" y1="583.26" x2="1830.5" y2="583.26" stroke="#fff" stroke-width="1"/>
<text transform="translate(1837.30,587.16) scale(1.1250,1)" font-family="Liberation Sans, sans-serif" font-size="11" fill="#000" stroke="#000" stroke-width="0.28" style="white-space:pre">15</text>
<line x1="1806.8" y1="557.93" x2="1811.54" y2="557.93" stroke="#fff" stroke-width="1"/>
<line x1="1825.76" y1="557.93" x2="1830.5" y2="557.93" stroke="#fff" stroke-width="1"/>
<text transform="translate(1837.30,561.83) scale(1.1250,1)" font-family="Liberation Sans, sans-serif" font-size="11" fill="#000" stroke="#000" stroke-width="0.28" style="white-space:pre">20</text>
<line x1="1806.8" y1="532.60" x2="1811.54" y2="532.60" stroke="#fff" stroke-width="1"/>
<line x1="1825.76" y1="532.60" x2="1830.5" y2="532.60" stroke="#fff" stroke-width="1"/>
<text transform="translate(1837.30,536.50) scale(1.1250,1)" font-family="Liberation Sans, sans-serif" font-size="11" fill="#000" stroke="#000" stroke-width="0.28" style="white-space:pre">25</text>
<text transform="translate(1807.0,501.6) scale(1.15,1)" font-family="Liberation Sans, sans-serif" font-size="11.7" fill="#000" stroke="#000" stroke-width="0.35">- log<tspan font-size="8.8" dy="2.2">10</tspan><tspan dy="-2.2">(Pvalue)</tspan></text>
</svg>
</body></html>
